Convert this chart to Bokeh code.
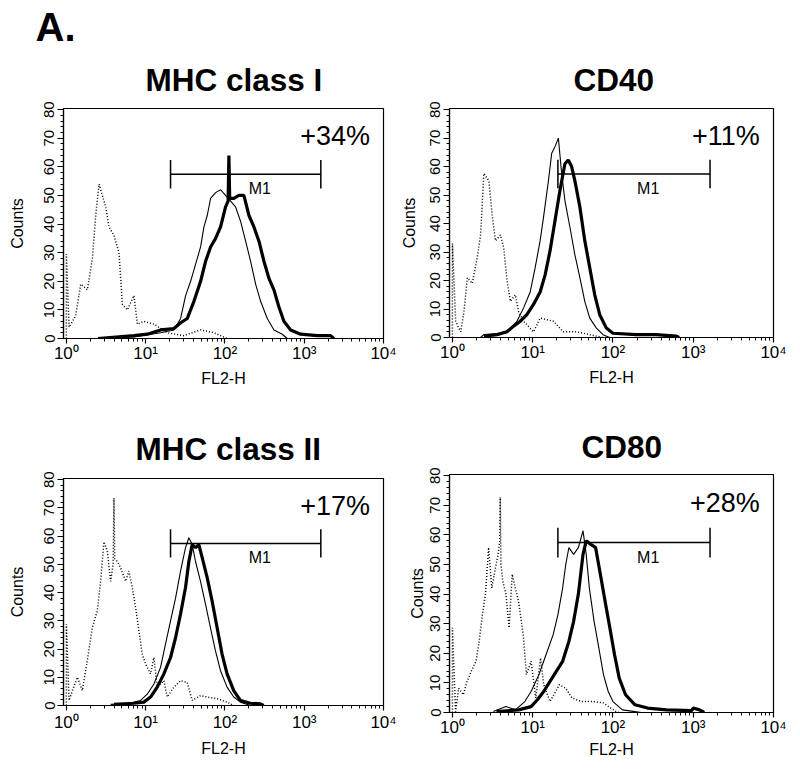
from bokeh.plotting import figure
from bokeh.models import Range1d, FixedTicker, Title, Label
from bokeh.layouts import row, column
from bokeh.embed import file_html
from bokeh.resources import INLINE

FONT = "Liberation Sans"

# ---------------- data (x: log10 FL2-H, y: counts) ----------------
# Panel 1: MHC class I
iso1_x = [0, 0, .034, .118, .181, .265, .328, .370, .412, .454, .496, .538, .601, .664, .706, .769, .853, .895, .979, 1.105, 1.273, 1.483, 1.693, 1.861, 2.029]
iso1_y = [0, 29.5, 4, 8, 19, 17, 28, 43, 54, 50, 46, 39, 36, 30, 12, 10, 15, 5, 6, 5, 2, 1, 3, 2, 0]
ctl1_x = [.40, .853, 1.189, 1.357, 1.441, 1.504, 1.567, 1.630, 1.693, 1.735, 1.777, 1.819, 1.882, 1.945, 2.008, 2.071, 2.134, 2.197, 2.261, 2.324, 2.387, 2.450, 2.534, 2.618, 2.723, 2.786]
ctl1_y = [0, 0.5, 2, 3, 7, 15, 20, 26, 32, 39, 43, 49, 51, 52, 50, 48, 46, 41, 34, 27, 19, 13, 7, 3, 1.5, 0]
trt1_x = [.40, .853, 1.021, 1.189, 1.357, 1.441, 1.525, 1.609, 1.693, 1.756, 1.819, 1.882, 1.945, 2.008, 2.040, 2.050, 2.060, 2.113, 2.176, 2.239, 2.303, 2.366, 2.429, 2.492, 2.555, 2.618, 2.681, 2.744, 2.828, 2.954, 3.164, 3.332, 3.374]
trt1_y = [0, 1, 1.5, 3, 3.5, 5.5, 7, 13, 20, 27, 32, 35, 39, 46, 48, 64, 49, 49, 50, 50, 43, 39, 34, 27, 21, 17, 11, 6, 3, 1.5, 1, 1, 0]

# Panel 2: CD40
iso2_x = [0, 0, .041, .103, .144, .186, .247, .309, .351, .392, .454, .495, .536, .598, .639, .680, .722, .784, .825, .887, 1.010, 1.093, 1.258, 1.381, 1.546, 1.711, 1.876]
iso2_y = [0, 33, 5.7, 2, 9, 21, 19, 28, 36, 57.6, 55, 43, 34, 36, 31.6, 20, 12.7, 15, 9, 5.7, 2, 6.8, 5.7, 2, 2, 1, 0]
ctl2_x = [.35, .392, .639, .722, .804, .887, .969, 1.031, 1.093, 1.134, 1.196, 1.237, 1.278, 1.320, 1.361, 1.402, 1.464, 1.526, 1.588, 1.649, 1.711, 1.794, 1.876, 1.959]
ctl2_y = [0, 1, 1.5, 3.3, 5.7, 10.4, 16, 24.5, 34, 42, 55, 64.7, 67, 70, 57.6, 48, 38.7, 29, 21, 12.7, 6.8, 3.3, 1, 0]
trt2_x = [.392, .557, .680, .763, .845, .928, 1.010, 1.093, 1.155, 1.216, 1.278, 1.340, 1.402, 1.443, 1.485, 1.526, 1.588, 1.649, 1.711, 1.773, 1.835, 1.918, 2.0, 2.289, 2.536, 2.784, 2.825]
trt2_y = [.5, 1, 2, 4, 5.7, 8, 11.6, 16, 22, 30.4, 41, 51.7, 61, 62.3, 60, 55, 45.8, 34, 24.5, 15, 8, 3.3, 1.5, 1, 1, .5, 0]

# Panel 3: MHC class II
iso3_x = [0, 0, .034, .076, .139, .201, .264, .327, .390, .432, .474, .516, .558, .590, .600, .610, .642, .684, .747, .789, .831, .873, .915, .957, .999, 1.062, 1.104, 1.146, 1.230, 1.272, 1.356, 1.440, 1.524, 1.587, 1.692, 1.776, 1.901, 2.027, 2.111]
iso3_y = [0, 28.8, 1.8, 5.3, 10, 5.3, 15.9, 27.6, 33.5, 44, 58, 54.7, 44, 50, 73.5, 52, 51, 48.8, 44, 47.6, 41.8, 34.7, 26.5, 18.2, 14.7, 11.2, 17, 6.5, 8.8, 3, 6.5, 8.8, 8.2, 1.8, 3.5, 3, 2.4, 1.2, 0]
ctl3_x = [.558, .768, .936, 1.020, 1.104, 1.188, 1.251, 1.314, 1.377, 1.440, 1.503, 1.545, 1.587, 1.629, 1.692, 1.755, 1.817, 1.880, 1.943, 2.027, 2.111, 2.195, 2.321]
ctl3_y = [.4, .6, 1.8, 4, 7.6, 13.5, 21.8, 30, 38, 47.6, 55.9, 59.4, 57, 51, 44, 35.9, 27.6, 19.4, 12.4, 6.5, 3, 1.2, 0]
trt3_x = [.600, .852, .978, 1.062, 1.146, 1.230, 1.314, 1.377, 1.440, 1.503, 1.545, 1.587, 1.629, 1.671, 1.713, 1.776, 1.838, 1.901, 1.964, 2.027, 2.111, 2.195, 2.321, 2.447, 2.489]
trt3_y = [.4, .8, 1.2, 3, 6.5, 11.2, 17, 24, 32.4, 41.8, 51, 57, 55.9, 57, 52.4, 45.3, 37, 27.6, 18.2, 11.2, 5.3, 1.8, .8, .6, 0]

# Panel 4: CD80
iso4_x = [0, 0, .039, .078, .137, .176, .235, .294, .333, .373, .412, .451, .490, .529, .569, .590, .596, .605, .627, .667, .706, .745, .784, .824, .882, .922, .980, 1.039, 1.098, 1.137, 1.216, 1.333, 1.412, 1.490, 1.608, 1.765, 1.882, 2.039, 2.078]
iso4_y = [0, 28.6, .3, 8.2, 6, 10, 13.9, 17.3, 24, 33, 40, 55.7, 42, 47.8, 53.4, 58, 72.7, 50, 44.4, 40, 28.6, 46.7, 42, 37.6, 26.3, 12.8, 17.3, 4.9, 18.4, 9.4, 3.7, 9.4, 8.2, 4.9, 3.7, 3.7, 3.2, .3, 0]
ctl4_x = [.510, .667, .784, .902, .980, 1.078, 1.137, 1.196, 1.255, 1.314, 1.373, 1.412, 1.451, 1.510, 1.569, 1.627, 1.667, 1.706, 1.765, 1.824, 1.882, 1.941, 2.0, 2.118, 2.275, 2.353]
ctl4_y = [.3, 2, .9, 3.7, 7.1, 12.8, 17.3, 21.8, 26.3, 33, 42, 50, 55.7, 53.4, 55.7, 61.4, 53.4, 42, 30.8, 21.8, 12.8, 7.1, 3.7, .9, .3, 0]
trt4_x = [.549, .824, .980, 1.059, 1.137, 1.216, 1.294, 1.373, 1.451, 1.510, 1.569, 1.627, 1.667, 1.725, 1.784, 1.843, 1.902, 1.961, 2.020, 2.078, 2.157, 2.275, 2.431, 2.667, 2.980, 3.000, 3.078, 3.137]
trt4_y = [.3, .9, 2, 4.3, 7.1, 10.5, 13.9, 17.3, 24, 30.8, 40, 53.4, 58, 56.8, 55.7, 46.7, 37.6, 28.6, 19.5, 11.6, 6, 2.6, 1.5, .9, .6, 1.5, .9, 0]

titles = ["MHC class I", "CD40", "MHC class II", "CD80"]
percents = ["+34%", "+11%", "+17%", "+28%"]

# M1 marker gate
gate_lo, gate_hi, gate_y, gate_cap = 20.6, 1620, 57.4, 5.0
m1_x, m1_y = 275, 52.3
pct_x, pct_y = 6760, 70.8

x_major = [1, 10, 100, 1000, 10000]
x_labels = {1: "10⁰", 10: "10¹", 100: "10²", 1000: "10³", 10000: "10⁴"}
x_minor = [m * 10 ** d for d in range(4) for m in range(2, 10)]
y_major = list(range(0, 81, 10))
y_minor = list(range(0, 81, 2))


def make_panel(title, pct, iso_x, iso_y, ctl_x, ctl_y, trt_x, trt_y,
               width, height, bl, br, bt, bb, title_standoff, title_offset,
               ylab_standoff, xlab_standoff, xtick_standoff, with_letter=False):
    p = figure(width=width, height=height, x_axis_type="log",
               x_range=Range1d(0.92, 10000), y_range=Range1d(0, 80.4),
               output_backend="svg", toolbar_location=None, title=None,
               min_border_left=bl, min_border_right=br,
               min_border_top=bt, min_border_bottom=bb)
    p.background_fill_color = "white"
    p.border_fill_color = "white"
    p.outline_line_color = "black"
    p.outline_line_width = 1.2
    p.grid.visible = False

    t = Title(text=title, align="left", offset=title_offset, standoff=title_standoff,
              text_font=FONT, text_font_size="31.5px", text_font_style="bold",
              text_color="black")
    p.add_layout(t, "above")
    if with_letter:
        a = Title(text="A.", align="left", offset=-28, standoff=0,
                  text_font=FONT, text_font_size="40px", text_font_style="bold",
                  text_color="black")
        p.add_layout(a, "above")

    p.line([10 ** v for v in iso_x], iso_y, line_color="black", line_width=1.5,
           line_dash="1 2")
    p.line([10 ** v for v in ctl_x], ctl_y, line_color="black", line_width=1.1)
    p.line([10 ** v for v in trt_x], trt_y, line_color="black", line_width=3.2)

    # M1 gate
    p.segment(x0=[gate_lo, gate_lo, gate_hi], y0=[gate_y, gate_y - gate_cap, gate_y - gate_cap],
              x1=[gate_hi, gate_lo, gate_hi], y1=[gate_y, gate_y + gate_cap, gate_y + gate_cap],
              line_color="black", line_width=1.5)
    p.add_layout(Label(x=m1_x, y=m1_y, text="M1", text_align="center",
                       text_baseline="middle", text_font=FONT,
                       text_font_size="16px", text_color="black"))
    p.add_layout(Label(x=pct_x, y=pct_y, text=pct, text_align="right",
                       text_baseline="middle", text_font=FONT,
                       text_font_size="27px", text_color="black"))

    xa = p.xaxis[0]
    xa.ticker = FixedTicker(ticks=x_major, minor_ticks=x_minor)
    xa.major_label_overrides = x_labels
    xa.axis_label = "FL2-H"
    xa.axis_label_standoff = xlab_standoff
    xa.major_label_standoff = xtick_standoff
    xa.major_tick_out = 5
    xa.major_tick_in = 0
    xa.minor_tick_out = 3
    xa.minor_tick_in = 0

    ya = p.yaxis[0]
    ya.ticker = FixedTicker(ticks=y_major, minor_ticks=y_minor)
    ya.axis_label = "Counts"
    ya.axis_label_standoff = ylab_standoff
    ya.major_label_standoff = 3
    ya.major_label_orientation = "vertical"
    ya.major_tick_out = 6
    ya.major_tick_in = 0
    ya.minor_tick_out = 3
    ya.minor_tick_in = 0

    for ax in (xa, ya):
        ax.axis_line_color = "black"
        ax.axis_line_width = 1.2
        ax.major_tick_line_color = "black"
        ax.minor_tick_line_color = "black"
        ax.major_tick_line_width = 1.2
        ax.axis_label_text_font = FONT
        ax.axis_label_text_font_size = "16px"
        ax.axis_label_text_font_style = "normal"
        ax.axis_label_text_color = "black"
        ax.major_label_text_font = FONT
        ax.major_label_text_color = "black"
    xa.major_label_text_font_size = "17px"
    ya.major_label_text_font_size = "15px"
    return p


# frames (page px): p1 63-383 x 108-338, p2 446-773 x 108-337,
#                   p3 63-383 x 478-705, p4 438-782 x 474-712
p1 = make_panel(titles[0], percents[0], iso1_x, iso1_y, ctl1_x, ctl1_y, trt1_x, trt1_y,
                397, 395, 63, 14, 108, 57, 22, 82, 16, 4, 0, with_letter=True)
p2 = make_panel(titles[1], percents[1], iso2_x, iso2_y, ctl2_x, ctl2_y, trt2_x, trt2_y,
                399, 395, 49, 23, 108, 58, 22, 124, 10, 4, 0)
p3 = make_panel(titles[2], percents[2], iso3_x, iso3_y, ctl3_x, ctl3_y, trt3_x, trt3_y,
                397, 375, 63, 14, 83, 65, 23, 72, 16, 5, 2)
p4 = make_panel(titles[3], percents[3], iso4_x, iso4_y, ctl4_x, ctl4_y, trt4_x, trt4_y,
                399, 375, 41, 14, 79, 58, 19, 132, 2, 1, 0)

layout = row(column(p1, p3, spacing=0), column(p2, p4, spacing=0), spacing=0)
open("out.html", "w").write(file_html(layout, INLINE))
